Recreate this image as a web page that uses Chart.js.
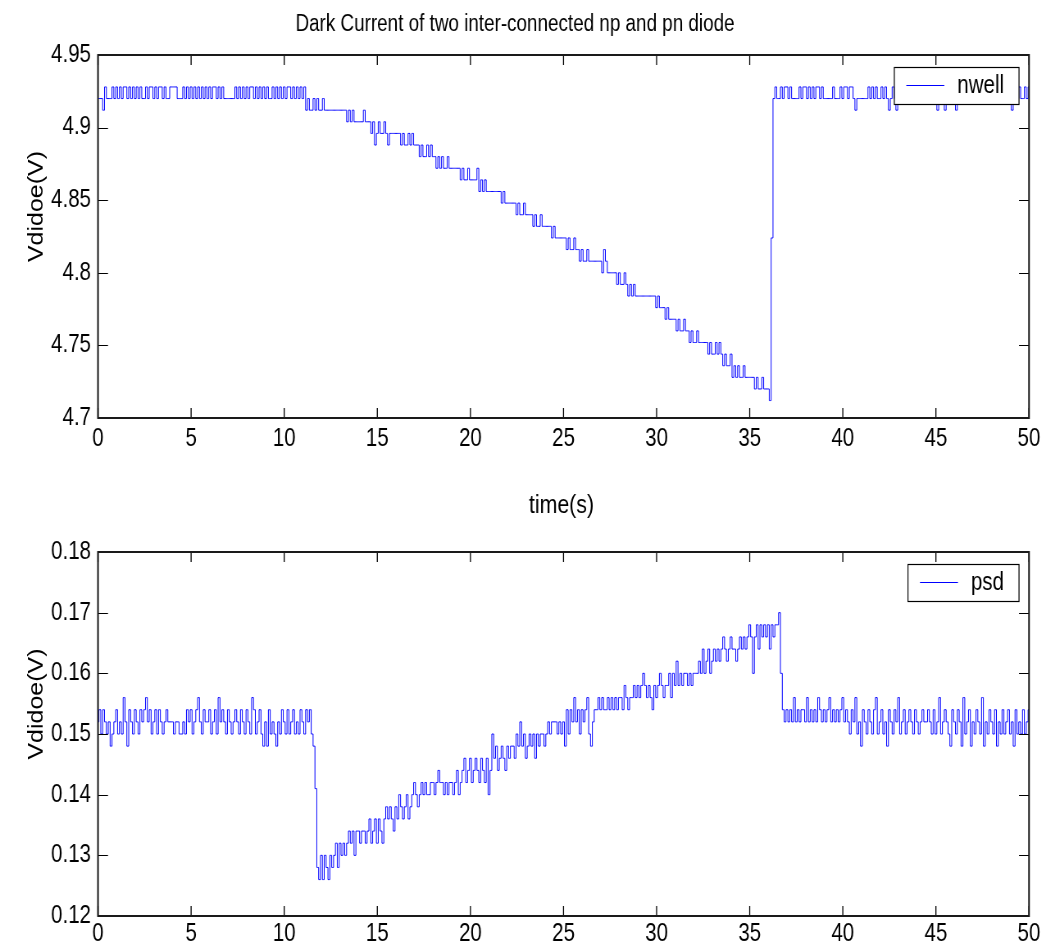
<!DOCTYPE html>
<html>
<head>
<meta charset="utf-8">
<title>Dark Current of two inter-connected np and pn diode</title>
<script src="https://cdn.jsdelivr.net/npm/chart.js@4.4.1/dist/chart.umd.min.js"></script>
<style>
  html, body { margin: 0; padding: 0; background: #fff; }
  #page { position: relative; width: 1046px; height: 946px; overflow: hidden; background: #fff; }
  /* the original figure is squashed sideways: draw wide, then squeeze */
  canvas { position: absolute; left: 0; transform-origin: 0 0; transform: scaleX(0.81975); }
  #topChart { top: 0; }
  #bottomChart { top: 525px; }
</style>
</head>
<body>
<div id="page">
  <canvas id="topChart" width="1276" height="525"></canvas>
  <canvas id="bottomChart" width="1276" height="421"></canvas>
</div>
<script>
// logger sample period in seconds (one value every 0.1 s, t = 0..50)
const sampleStep = 0.1;

const timeTicks = [0, 5, 10, 15, 20, 25, 30, 35, 40, 45, 50];
const nwellTicks = [4.7, 4.75, 4.8, 4.85, 4.9, 4.95];
const psdTicks = [0.12, 0.13, 0.14, 0.15, 0.16, 0.17, 0.18];

// nwell diode voltage (V)
const nwell = [
  4.92, 4.92, 4.92, 4.912, 4.928, 4.92, 4.92, 4.92, 4.928, 4.92,
  4.928, 4.92, 4.928, 4.92, 4.928, 4.928, 4.92, 4.928, 4.92, 4.928,
  4.92, 4.928, 4.92, 4.928, 4.92, 4.92, 4.928, 4.92, 4.928, 4.928,
  4.92, 4.928, 4.92, 4.928, 4.928, 4.92, 4.928, 4.92, 4.92, 4.928,
  4.928, 4.928, 4.928, 4.92, 4.92, 4.92, 4.928, 4.92, 4.928, 4.92,
  4.928, 4.92, 4.928, 4.92, 4.928, 4.92, 4.928, 4.92, 4.928, 4.92,
  4.928, 4.92, 4.928, 4.928, 4.92, 4.928, 4.92, 4.928, 4.92, 4.92,
  4.92, 4.92, 4.92, 4.92, 4.928, 4.92, 4.928, 4.92, 4.928, 4.92,
  4.928, 4.92, 4.928, 4.928, 4.92, 4.928, 4.92, 4.928, 4.92, 4.928,
  4.92, 4.928, 4.92, 4.92, 4.928, 4.92, 4.928, 4.92, 4.928, 4.92,
  4.928, 4.92, 4.928, 4.928, 4.92, 4.928, 4.92, 4.928, 4.92, 4.928,
  4.92, 4.928, 4.912, 4.92, 4.912, 4.912, 4.92, 4.912, 4.92, 4.912,
  4.912, 4.92, 4.912, 4.912, 4.912, 4.912, 4.912, 4.912, 4.912, 4.912,
  4.912, 4.912, 4.912, 4.912, 4.904, 4.912, 4.904, 4.912, 4.904, 4.904,
  4.904, 4.904, 4.904, 4.912, 4.904, 4.904, 4.904, 4.896, 4.904, 4.888,
  4.896, 4.904, 4.896, 4.896, 4.904, 4.896, 4.888, 4.896, 4.896, 4.896,
  4.896, 4.896, 4.896, 4.888, 4.896, 4.888, 4.888, 4.896, 4.888, 4.896,
  4.888, 4.888, 4.888, 4.88, 4.888, 4.88, 4.88, 4.888, 4.88, 4.888,
  4.88, 4.88, 4.872, 4.88, 4.872, 4.88, 4.872, 4.872, 4.88, 4.872,
  4.872, 4.872, 4.872, 4.872, 4.872, 4.864, 4.872, 4.864, 4.864, 4.872,
  4.864, 4.864, 4.864, 4.864, 4.872, 4.856, 4.864, 4.856, 4.864, 4.856,
  4.856, 4.856, 4.856, 4.856, 4.856, 4.856, 4.856, 4.848, 4.856, 4.848,
  4.848, 4.848, 4.848, 4.848, 4.848, 4.84, 4.848, 4.84, 4.84, 4.848,
  4.84, 4.84, 4.84, 4.84, 4.832, 4.84, 4.832, 4.832, 4.84, 4.832,
  4.832, 4.832, 4.832, 4.832, 4.824, 4.832, 4.824, 4.824, 4.824, 4.824,
  4.824, 4.824, 4.816, 4.824, 4.816, 4.816, 4.824, 4.816, 4.816, 4.808,
  4.816, 4.808, 4.808, 4.816, 4.808, 4.808, 4.808, 4.808, 4.808, 4.808,
  4.808, 4.8, 4.816, 4.808, 4.8, 4.8, 4.8, 4.8, 4.8, 4.792,
  4.8, 4.792, 4.792, 4.8, 4.792, 4.784, 4.792, 4.784, 4.792, 4.784,
  4.784, 4.784, 4.784, 4.784, 4.784, 4.784, 4.784, 4.784, 4.784, 4.784,
  4.776, 4.784, 4.776, 4.776, 4.776, 4.768, 4.776, 4.768, 4.768, 4.768,
  4.768, 4.76, 4.768, 4.76, 4.76, 4.768, 4.76, 4.76, 4.752, 4.76,
  4.752, 4.752, 4.76, 4.752, 4.752, 4.752, 4.752, 4.752, 4.744, 4.752,
  4.744, 4.744, 4.752, 4.744, 4.752, 4.744, 4.736, 4.744, 4.736, 4.736,
  4.744, 4.728, 4.736, 4.728, 4.736, 4.728, 4.728, 4.736, 4.728, 4.728,
  4.728, 4.728, 4.728, 4.72, 4.728, 4.72, 4.72, 4.728, 4.72, 4.72,
  4.72, 4.712, 4.824, 4.92, 4.928, 4.92, 4.92, 4.928, 4.92, 4.928,
  4.928, 4.92, 4.928, 4.92, 4.92, 4.92, 4.92, 4.928, 4.92, 4.928,
  4.928, 4.92, 4.928, 4.92, 4.928, 4.92, 4.928, 4.928, 4.92, 4.928,
  4.92, 4.92, 4.92, 4.92, 4.92, 4.928, 4.92, 4.92, 4.92, 4.928,
  4.92, 4.928, 4.928, 4.92, 4.928, 4.928, 4.92, 4.912, 4.92, 4.92,
  4.92, 4.92, 4.92, 4.92, 4.928, 4.92, 4.928, 4.92, 4.928, 4.92,
  4.92, 4.928, 4.92, 4.928, 4.92, 4.912, 4.92, 4.928, 4.92, 4.912,
  4.92, 4.928, 4.92, 4.928, 4.92, 4.928, 4.92, 4.92, 4.928, 4.92,
  4.928, 4.92, 4.928, 4.92, 4.928, 4.92, 4.928, 4.92, 4.92, 4.928,
  4.92, 4.912, 4.92, 4.928, 4.92, 4.912, 4.92, 4.928, 4.92, 4.92,
  4.928, 4.912, 4.92, 4.928, 4.92, 4.928, 4.92, 4.928, 4.928, 4.92,
  4.928, 4.92, 4.928, 4.92, 4.928, 4.92, 4.92, 4.928, 4.92, 4.928,
  4.92, 4.928, 4.92, 4.928, 4.92, 4.928, 4.92, 4.928, 4.92, 4.92,
  4.928, 4.912, 4.92, 4.928, 4.92, 4.928, 4.92, 4.92, 4.928, 4.92, 4.928
];

// psd diode voltage (V)
const psd = [
  0.152, 0.154, 0.15, 0.154, 0.152, 0.15, 0.152, 0.148, 0.15, 0.152,
  0.154, 0.15, 0.152, 0.15, 0.156, 0.152, 0.148, 0.154, 0.152, 0.15,
  0.154, 0.152, 0.15, 0.154, 0.152, 0.154, 0.156, 0.152, 0.154, 0.15,
  0.152, 0.154, 0.15, 0.154, 0.152, 0.15, 0.152, 0.154, 0.152, 0.152,
  0.152, 0.15, 0.152, 0.152, 0.15, 0.15, 0.152, 0.15, 0.154, 0.152,
  0.154, 0.15, 0.152, 0.154, 0.156, 0.152, 0.15, 0.154, 0.152, 0.152,
  0.154, 0.15, 0.152, 0.154, 0.15, 0.156, 0.152, 0.154, 0.152, 0.15,
  0.154, 0.152, 0.15, 0.152, 0.154, 0.152, 0.15, 0.154, 0.152, 0.15,
  0.154, 0.152, 0.15, 0.156, 0.154, 0.15, 0.152, 0.154, 0.15, 0.148,
  0.152, 0.148, 0.154, 0.15, 0.152, 0.15, 0.148, 0.152, 0.15, 0.154,
  0.152, 0.15, 0.154, 0.15, 0.152, 0.154, 0.15, 0.152, 0.15, 0.154,
  0.152, 0.15, 0.154, 0.152, 0.154, 0.15,
  0.148, 0.141, 0.128,
  0.126, 0.13, 0.126, 0.13, 0.128, 0.126, 0.13,
  0.128, 0.13, 0.132, 0.128, 0.132, 0.13, 0.132, 0.13, 0.132,
  0.134, 0.132, 0.134, 0.13, 0.134, 0.134, 0.132, 0.134, 0.134, 0.132, 0.134,
  0.136, 0.132, 0.134, 0.136, 0.132, 0.136, 0.134, 0.132, 0.136,
  0.138, 0.136, 0.138, 0.136, 0.134, 0.138, 0.136,
  0.14, 0.138, 0.136, 0.138, 0.14, 0.136, 0.138,
  0.14, 0.142, 0.14, 0.138, 0.14, 0.142, 0.14, 0.142, 0.14, 0.14, 0.142,
  0.142, 0.14, 0.142, 0.144, 0.142, 0.142, 0.14, 0.142, 0.14, 0.142, 0.142, 0.14, 0.142, 0.144, 0.14, 0.142,
  0.144, 0.146, 0.142, 0.144, 0.146, 0.142, 0.144, 0.146, 0.144, 0.142, 0.146, 0.144, 0.142, 0.146, 0.14, 0.144,
  0.15, 0.146, 0.148, 0.144, 0.146, 0.148, 0.146, 0.144, 0.148, 0.146, 0.148,
  0.148, 0.146, 0.15, 0.148, 0.152, 0.148, 0.15, 0.146, 0.148, 0.15, 0.148, 0.15, 0.146, 0.15, 0.148, 0.15, 0.15, 0.148,
  0.15, 0.152, 0.15, 0.152, 0.152, 0.152, 0.15, 0.152, 0.15, 0.152, 0.148,
  0.154, 0.15, 0.154, 0.152, 0.156, 0.152, 0.154, 0.15, 0.154, 0.152, 0.154, 0.156,
  0.15, 0.148, 0.152, 0.154,
  0.154, 0.156, 0.154, 0.156, 0.154, 0.154, 0.156, 0.154, 0.156, 0.154, 0.156, 0.154, 0.156, 0.156, 0.154, 0.158, 0.156, 0.154, 0.156, 0.156,
  0.158, 0.156, 0.158, 0.156, 0.158, 0.16, 0.158, 0.156, 0.158, 0.156, 0.154, 0.158, 0.156, 0.158, 0.16, 0.158, 0.156, 0.158,
  0.158, 0.16, 0.156, 0.16, 0.158, 0.162, 0.158, 0.16, 0.158, 0.16, 0.16, 0.158, 0.16, 0.158, 0.16, 0.16,
  0.16, 0.162, 0.16, 0.164, 0.16, 0.162, 0.164, 0.16, 0.162, 0.164, 0.162, 0.164, 0.162,
  0.164, 0.166, 0.164, 0.162, 0.164, 0.166, 0.164, 0.164, 0.162, 0.164, 0.166, 0.164, 0.166, 0.164,
  0.166, 0.168, 0.166, 0.16, 0.166, 0.168, 0.164, 0.168, 0.166, 0.168, 0.166, 0.168, 0.164, 0.168, 0.166, 0.168, 0.168,
  0.17, 0.16, 0.154,
  0.152, 0.154, 0.152, 0.154, 0.152, 0.156, 0.152, 0.154, 0.152, 0.154,
  0.154, 0.152, 0.156, 0.152, 0.154, 0.152, 0.154, 0.152, 0.156, 0.154,
  0.152, 0.154, 0.152, 0.154, 0.156, 0.152, 0.154, 0.152, 0.154, 0.152,
  0.154, 0.156, 0.152, 0.154, 0.152, 0.15, 0.154, 0.152,
  0.156, 0.15, 0.152, 0.148, 0.154, 0.152, 0.15, 0.154, 0.152, 0.15,
  0.154, 0.156, 0.15, 0.152, 0.154, 0.15, 0.152, 0.148, 0.154, 0.152,
  0.15, 0.154, 0.152, 0.156, 0.15, 0.152, 0.154, 0.15, 0.152, 0.154,
  0.152, 0.15, 0.154, 0.152, 0.15, 0.152, 0.154, 0.152, 0.152, 0.154,
  0.152, 0.15, 0.154, 0.15, 0.152, 0.156, 0.15, 0.152, 0.154, 0.152,
  0.15, 0.148, 0.154, 0.152, 0.15, 0.154, 0.152, 0.148, 0.156, 0.15,
  0.152, 0.154, 0.148, 0.152, 0.15, 0.154, 0.152, 0.15, 0.156, 0.148,
  0.152, 0.15, 0.154, 0.152, 0.15, 0.154, 0.148, 0.152, 0.15, 0.154,
  0.15, 0.152, 0.154, 0.15, 0.152, 0.148, 0.154, 0.15, 0.152, 0.15,
  0.154, 0.15, 0.152, 0.154
];

const fontFamily = '"Liberation Sans", Arial, Helvetica, sans-serif';
const squeeze = 0.81975; // same factor as the css scaleX on the canvases
const sx = v => v / squeeze; // screen px -> canvas px (horizontal only)

function toPoints(values) {
  return values.map((v, i) => ({ x: +(i * sampleStep).toFixed(1), y: v }));
}

function drawText(ctx, text, x, y, size, align, rotated) {
  ctx.save();
  ctx.translate(x, y);
  if (rotated) {
    ctx.rotate(-Math.PI / 2);
    ctx.textBaseline = 'middle';
  } else {
    ctx.textBaseline = 'alphabetic';
  }
  ctx.font = size + 'px ' + fontFamily;
  ctx.fillStyle = '#000';
  ctx.textAlign = align;
  ctx.fillText(text, 0, 0);
  ctx.restore();
}

// matlab style box, inward ticks, boxed legend and labels
const matlabFrame = {
  id: 'matlabFrame',
  afterDatasetsDraw(chart, args, opts) {
    const ctx = chart.ctx;
    const area = chart.chartArea;
    const xs = chart.scales.x;
    const ys = chart.scales.y;
    ctx.save();

    ctx.strokeStyle = '#000';
    ctx.lineWidth = 1.3;
    ctx.beginPath();
    xs.ticks.forEach(t => {
      const px = xs.getPixelForValue(t.value);
      ctx.moveTo(px, area.top);
      ctx.lineTo(px, area.top + 10);
      ctx.moveTo(px, area.bottom);
      ctx.lineTo(px, area.bottom - 10);
    });
    ctx.stroke();
    ctx.lineWidth = 1;
    ctx.beginPath();
    ys.ticks.forEach(t => {
      const py = Math.round(ys.getPixelForValue(t.value)) + 0.5;
      ctx.moveTo(area.left, py);
      ctx.lineTo(area.left + sx(10), py);
      ctx.moveTo(area.right, py);
      ctx.lineTo(area.right - sx(10), py);
    });
    ctx.stroke();

    ctx.lineWidth = 2;
    ctx.strokeStyle = '#1a1a1a';
    ctx.strokeRect(area.left, area.top, area.right - area.left, area.bottom - area.top);

    // legend
    const ds = chart.data.datasets[0];
    ctx.font = '25px ' + fontFamily;
    const tw = ctx.measureText(ds.label).width;
    const w = tw + sx(78);
    const h = 37;
    const bx = area.right - sx(10) - w;
    const by = Math.round(area.top + 12);
    ctx.fillStyle = '#fff';
    ctx.fillRect(bx, by, w, h);
    ctx.lineWidth = 1.2;
    ctx.strokeStyle = '#000';
    ctx.strokeRect(bx, by + 0.5, w, h);
    ctx.lineWidth = 1;
    ctx.strokeStyle = ds.borderColor;
    ctx.beginPath();
    ctx.moveTo(bx + sx(12), by + 18.5);
    ctx.lineTo(bx + sx(50), by + 18.5);
    ctx.stroke();
    drawText(ctx, ds.label, bx + sx(63), by + 26, 25, 'left', false);

    if (opts.title) drawText(ctx, opts.title, sx(opts.titleX), 31, 23, 'center', false);
    if (opts.xLabel) drawText(ctx, opts.xLabel, (area.left + area.right) / 2 - sx(2), area.bottom + 95, 26, 'center', false);
    if (opts.yLabel) drawText(ctx, opts.yLabel, sx(37), (area.top + area.bottom) / 2 - 30, 25, 'center', true);

    ctx.restore();
  }
};

function makeChart(id, label, values, yTicks, axisHeight, padTop, xPad, frame) {
  const tickFont = { family: fontFamily, size: 25 };
  return new Chart(document.getElementById(id), {
    type: 'line',
    data: {
      datasets: [{
        label: label,
        data: toPoints(values),
        borderColor: '#0000ff',
        borderWidth: 1,
        pointRadius: 0,
        stepped: 'middle',
        fill: false
      }]
    },
    options: {
      responsive: false,
      animation: false,
      events: [],
      layout: { padding: { top: padTop, right: sx(17), left: 0, bottom: 0 } },
      scales: {
        x: {
          type: 'linear',
          min: timeTicks[0],
          max: timeTicks[timeTicks.length - 1],
          grid: { display: false, drawTicks: false },
          border: { display: false },
          ticks: { font: tickFont, color: '#000', padding: xPad, maxRotation: 0, autoSkip: false },
          afterBuildTicks: s => { s.ticks = timeTicks.map(v => ({ value: v })); },
          afterFit: s => { s.height = axisHeight; }
        },
        y: {
          type: 'linear',
          min: yTicks[0],
          max: yTicks[yTicks.length - 1],
          grid: { display: false, drawTicks: false },
          border: { display: false },
          ticks: {
            font: tickFont,
            color: '#000',
            padding: sx(7),
            callback: v => String(Number(v.toFixed(3)))
          },
          afterBuildTicks: s => { s.ticks = yTicks.map(v => ({ value: v })); },
          afterFit: s => { s.width = sx(98); }
        }
      },
      plugins: {
        legend: { display: false },
        tooltip: { enabled: false },
        matlabFrame: frame
      }
    },
    plugins: [matlabFrame]
  });
}

makeChart('topChart', 'nwell', nwell, nwellTicks, 107, 55, 6, {
  title: 'Dark Current of two inter-connected np and pn diode',
  titleX: 515,
  xLabel: 'time(s)',
  yLabel: 'Vdidoe(V)'
});

makeChart('bottomChart', 'psd', psd, psdTicks, 30, 27, 3, {
  yLabel: 'Vdidoe(V)'
});
</script>
</body>
</html>
